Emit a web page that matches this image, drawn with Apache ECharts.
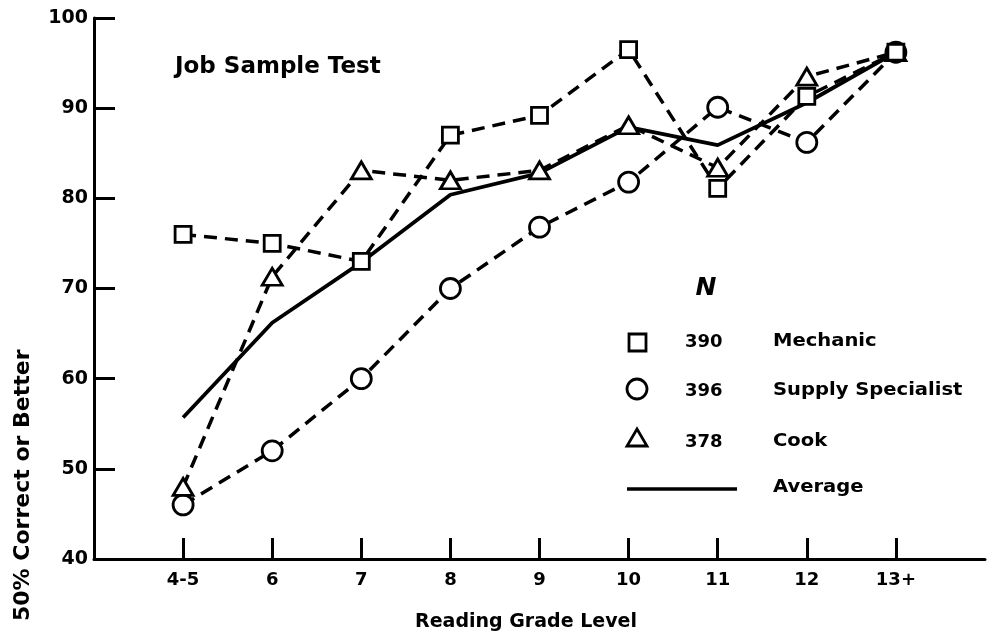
<!DOCTYPE html>
<html>
<head>
<meta charset="utf-8">
<script src="https://cdn.jsdelivr.net/npm/echarts@6/dist/echarts.min.js"></script>
<style>
  html, body { margin: 0; padding: 0; background: #fff; }
  #chart { width: 988px; height: 640px; }
</style>
</head>
<body>
<div id="chart"></div>
<script>
// reading grade levels (blank ends give the margin either side)
var grades = ['', '4-5', '6', '7', '8', '9', '10', '11', '12', '13+', ''];
var gradeLevels = ['4-5', '6', '7', '8', '9', '10', '11', '12', '13+'];

var mechanic = [76, 75, 73, 87, 89.2, 96.5, 81.1, 91.3, 96.2];
var supply = [46, 52, 60, 70, 76.8, 81.8, 90.1, 86.2, 96.2];
var cook = [48, 71.3, 83.1, 82, 83.1, 88.1, 83.4, 93.5, 96.2];
var average = [55.7, 66.2, 72.9, 80.4, 82.8, 87.9, 85.9, 90.6, 96.2];

var yTicks = [40, 50, 60, 70, 80, 90, 100];

var legendRows = [
    { n: '390', name: 'Mechanic' },
    { n: '396', name: 'Supply Specialist' },
    { n: '378', name: 'Cook' },
    { n: '', name: 'Average' }
];

function pairs(vals) {
    return vals.map(function (v, i) { return [gradeLevels[i], v]; });
}

var chart = echarts.init(document.getElementById('chart'));
var font = 'DejaVu Sans';

function dashed(name, vals, symbol, size) {
    return {
        name: name,
        type: 'line',
        data: pairs(vals),
        symbol: symbol,
        symbolSize: size,
        showAllSymbol: true,
        lineStyle: { color: '#000', width: 3.5, type: [13, 8] },
        itemStyle: { color: '#fff', borderColor: '#000', borderWidth: 2.8 },
        z: 3
    };
}

var option = {
    backgroundColor: '#fff',
    animation: false,
    grid: { left: 94, right: 1, top: 18, bottom: 81 },
    xAxis: {
        type: 'category',
        data: grades,
        boundaryGap: false,
        axisLine: { lineStyle: { color: '#000', width: 3 } },
        axisTick: {
            inside: true,
            length: 21,
            interval: function (idx, val) { return val !== ''; },
            lineStyle: { color: '#000', width: 3 }
        },
        axisLabel: {
            interval: 0,
            margin: 12,
            color: '#000',
            fontFamily: font,
            fontWeight: 'bold',
            fontSize: 18
        },
        splitLine: { show: false }
    },
    yAxis: {
        type: 'value',
        min: 40,
        max: 100,
        interval: 10,
        axisLine: { show: true, lineStyle: { color: '#000', width: 3 } },
        axisTick: { show: true, inside: true, length: 21, lineStyle: { color: '#000', width: 3 } },
        axisLabel: {
            margin: 6,
            color: '#000',
            fontFamily: font,
            fontWeight: 'bold',
            fontSize: 19,
            formatter: function (v) { return yTicks.indexOf(v) >= 0 ? String(v) : ''; }
        },
        splitLine: { show: false }
    },
    series: [
        {
            name: 'Average',
            type: 'line',
            data: pairs(average),
            symbol: 'none',
            lineStyle: { color: '#000', width: 3.8 },
            z: 2
        },
        dashed('Supply Specialist', supply, 'circle', 20),
        dashed('Cook', cook, 'triangle', [20, 17]),
        dashed('Mechanic', mechanic, 'rect', 16)
    ],
    graphic: [
        {
            type: 'text', x: 175, y: 67,
            style: { text: 'Job Sample Test', font: 'bold 23px "DejaVu Sans"', fill: '#000', verticalAlign: 'middle' }
        },
        {
            type: 'text', x: 526, y: 622,
            style: { text: 'Reading Grade Level', font: 'bold 19px "DejaVu Sans"', fill: '#000', align: 'center', verticalAlign: 'middle' }
        },
        {
            type: 'text', x: 23, y: 621, rotation: Math.PI / 2,
            style: { text: '50% Correct or Better', font: 'bold 22px "DejaVu Sans"', fill: '#000', align: 'left', verticalAlign: 'middle' }
        },
        {
            type: 'text', x: 706, y: 288,
            style: { text: 'N', font: 'italic bold 25px "DejaVu Sans"', fill: '#000', align: 'center', verticalAlign: 'middle' }
        },
        // legend symbols
        {
            type: 'rect', shape: { x: 629, y: 334, width: 17, height: 17 },
            style: { fill: '#fff', stroke: '#000', lineWidth: 2.8 }
        },
        {
            type: 'circle', shape: { cx: 637, cy: 389, r: 10 },
            style: { fill: '#fff', stroke: '#000', lineWidth: 2.8 }
        },
        {
            type: 'polygon', shape: { points: [[637, 429], [647, 446], [627, 446]] },
            style: { fill: '#fff', stroke: '#000', lineWidth: 2.8 }
        },
        {
            type: 'line', shape: { x1: 627, y1: 489, x2: 737, y2: 489 },
            style: { stroke: '#000', lineWidth: 3.5 }
        }
    ].concat(legendRows.map(function (r, i) {
        var y = [342, 391, 442, 488][i];
        return {
            type: 'group',
            children: [
                {
                    type: 'text', x: 685, y: y,
                    style: { text: r.n, font: 'bold 18px "DejaVu Sans"', fill: '#000', verticalAlign: 'middle' }
                },
                {
                    type: 'text', x: 773, y: y, scaleX: 1.15,
                    style: { text: r.name, font: 'bold 17px "DejaVu Sans"', fill: '#000', verticalAlign: 'middle' }
                }
            ]
        };
    }))
};

chart.setOption(option);
</script>
</body>
</html>
